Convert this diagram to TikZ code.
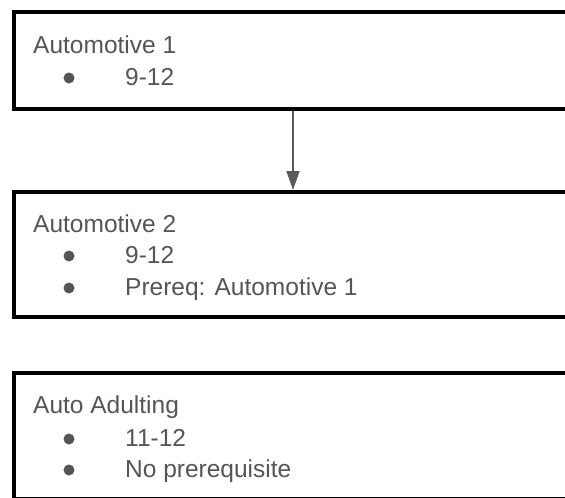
\documentclass[tikz,border=0pt]{standalone}
\usepackage{fontspec}
\setmainfont{Liberation Sans}
\usetikzlibrary{arrows.meta}
\definecolor{txtgray}{HTML}{555555}
\definecolor{arrgray}{HTML}{5A5A5A}
\tikzset{
  course/.style={draw=black, line width=4pt, rectangle, inner sep=0pt,
    minimum width=608pt, anchor=north west},
  itemtext/.style={anchor=base west, inner sep=0pt, text=txtgray,
    font=\fontsize{24.5pt}{30pt}\selectfont},
  dot/.style={circle, fill=txtgray, inner sep=0pt, minimum size=11pt},
  flow/.style={draw=arrgray, line width=1.6pt,
    -{Triangle[length=19pt,width=13pt]}}
}
\begin{document}
\begin{tikzpicture}[x=1pt,y=-1pt]
\useasboundingbox (0,0) rectangle (565,498);
\clip (0,0) rectangle (565,498);
\fill[white] (0,0) rectangle (565,498);

% course boxes (they run on past the right edge)
\node[course, minimum height=97pt] (b1) at (12,10) {};
\node[course, minimum height=125pt] (b2) at (12,190) {};
\node[course, minimum height=126pt] (b3) at (12,371) {};

% Automotive 1
\node[itemtext] (t1) at (33,53) {Automotive 1};
\node[dot] (d11) at (69,78) {};
\node[itemtext] (l11) at (125,85) {9-12};

% Automotive 2
\node[itemtext] (t2) at (33,232) {Automotive 2};
\node[dot] (d21) at (69,256) {};
\node[itemtext] (l21) at (125,263) {9-12};
\node[dot] (d22) at (69,288) {};
\node[itemtext] (l22) at (125,295) {Prereq: Automotive 1};

% Auto Adulting
\node[itemtext] (t3) at (33,413) {Auto Adulting};
\node[dot] (d31) at (69,439) {};
\node[itemtext] (l31) at (125,446) {11-12};
\node[dot] (d32) at (69,470) {};
\node[itemtext] (l32) at (125,477) {No prerequisite};

% prerequisite arrow
\coordinate (ax) at (293,0);
\draw[flow] (b1.south -| ax) -- (b2.north -| ax);
\end{tikzpicture}
\end{document}
